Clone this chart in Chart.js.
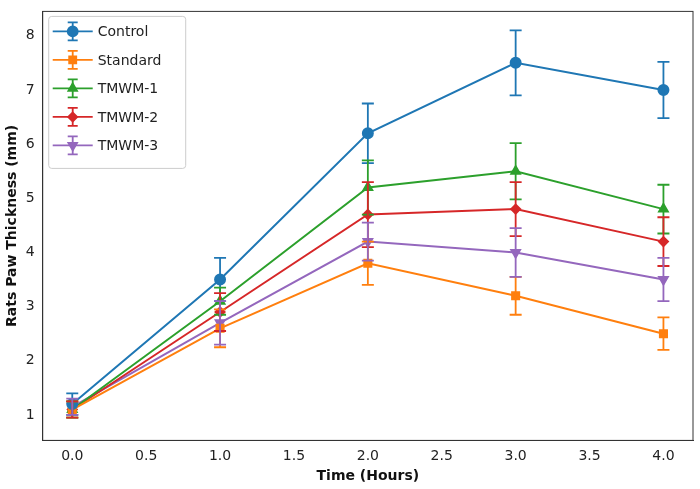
<!DOCTYPE html>
<html><head><meta charset="utf-8">
<script src="https://cdn.jsdelivr.net/npm/chart.js@4/dist/chart.umd.min.js"></script>
<style>body{margin:0;background:#fff}#w{width:700px;height:489px}</style>
</head><body><div id="w"><canvas id="c"></canvas></div>
<script>
const times=[0,1,2,3,4];
const seriesNames=["Control","Standard","TMWM-1","TMWM-2","TMWM-3"];
const control=[1.2,3.5,6.2,7.5,7.0];
const standard=[1.1,2.6,3.8,3.2,2.5];
const tmwm1=[1.1,3.1,5.2,5.5,4.8];
const tmwm2=[1.1,2.9,4.7,4.8,4.2];
const tmwm3=[1.15,2.7,4.2,4.0,3.5];
const controlErr=[0.2,0.4,0.55,0.6,0.52];
const standardErr=[0.15,0.35,0.4,0.35,0.3];
const tmwm1Err=[0.15,0.25,0.5,0.52,0.45];
const tmwm2Err=[0.15,0.35,0.6,0.5,0.45];
const tmwm3Err=[0.15,0.4,0.35,0.45,0.4];
const colors=["#1f77b4","#ff7f0e","#2ca02c","#d62728","#9467bd"];
const styles=["circle","rect","triangle","rectRot","triangle"];
const rots=[0,0,0,0,180];
const radii=[5,5,5,4.5,5];
const vals=[control,standard,tmwm1,tmwm2,tmwm3];
const errs=[controlErr,standardErr,tmwm1Err,tmwm2Err,tmwm3Err];
const F="'DejaVu Sans'";
const errPlugin={id:'err',afterDatasetsDraw(ch){
 const {ctx,scales:{x,y}}=ch;
 ch.data.datasets.forEach((d,i)=>{ctx.save();ctx.strokeStyle=colors[i];ctx.lineWidth=1.8;
  d.data.forEach((p,j)=>{const e=errs[i][j];const px=x.getPixelForValue(p.x);
   const t=y.getPixelForValue(p.y+e),b=y.getPixelForValue(p.y-e);
   ctx.beginPath();ctx.moveTo(px,t);ctx.lineTo(px,b);ctx.moveTo(px-6,t);ctx.lineTo(px+6,t);ctx.moveTo(px-6,b);ctx.lineTo(px+6,b);ctx.stroke();});
  ctx.restore();});
 const a=ch.chartArea;
 ctx.save();ctx.strokeStyle='#333';ctx.lineWidth=1;ctx.strokeRect(a.left,a.top,a.right-a.left,a.bottom-a.top);ctx.restore();
 const lx=a.left+6,ly=a.top+5;
 ctx.save();ctx.fillStyle='rgba(255,255,255,0.8)';ctx.strokeStyle='#ccc';ctx.lineWidth=1;
 ctx.beginPath();ctx.roundRect(lx,ly,137,152,3);ctx.fill();ctx.stroke();
 ctx.font="14px "+F;ctx.textBaseline='middle';
 seriesNames.forEach((n,i)=>{const cy=ly+15+i*28.5,cx=lx+24;
  ctx.strokeStyle=colors[i];ctx.lineWidth=1.8;ctx.beginPath();ctx.moveTo(cx-20,cy);ctx.lineTo(cx+20,cy);
  ctx.moveTo(cx,cy-9);ctx.lineTo(cx,cy+9);ctx.moveTo(cx-5,cy-9);ctx.lineTo(cx+5,cy-9);ctx.moveTo(cx-5,cy+9);ctx.lineTo(cx+5,cy+9);ctx.stroke();
  ctx.fillStyle=colors[i];ctx.strokeStyle=colors[i];Chart.helpers.drawPoint(ctx,{pointStyle:styles[i],radius:radii[i],rotation:rots[i],borderWidth:1},cx,cy);
  ctx.fillStyle='#222';ctx.fillText(n,lx+49,cy+1);});
 ctx.restore();}};
new Chart(document.getElementById('c'),{type:'scatter',
 data:{datasets:seriesNames.map((n,i)=>({label:n,data:times.map((t,j)=>({x:t,y:vals[i][j]})),showLine:true,
  borderColor:colors[i],backgroundColor:colors[i],borderWidth:2,pointStyle:styles[i],pointRadius:radii[i],pointRotation:rots[i]}))},
 options:{responsive:true,maintainAspectRatio:false,animation:false,layout:{padding:{top:3,right:2,left:0,bottom:0}},
  plugins:{legend:{display:false},tooltip:{enabled:false}},
  scales:{x:{min:-0.2,max:4.2,afterBuildTicks(s){s.ticks=[0,0.5,1,1.5,2,2.5,3,3.5,4].map(v=>({value:v}))},
    grid:{display:false,drawTicks:true,tickLength:5,tickColor:'#333'},border:{color:'#333'},
    ticks:{color:'#222',font:{family:F,size:14},callback:v=>v.toFixed(1)},
    title:{display:true,text:'Time (Hours)',color:'#111',font:{family:F,size:14,weight:'bold'},padding:{top:0}}},
   y:{min:0.53,max:8.45,afterBuildTicks(s){s.ticks=[1,2,3,4,5,6,7,8].map(v=>({value:v}))},
    grid:{display:false,tickLength:5,tickColor:'#333'},border:{color:'#333'},
    ticks:{color:'#222',font:{family:F,size:14}},
    title:{display:true,text:'Rats Paw Thickness (mm)',color:'#111',font:{family:F,size:14,weight:'bold'},padding:{bottom:2}}}}},
 plugins:[errPlugin]});
</script></body></html>
